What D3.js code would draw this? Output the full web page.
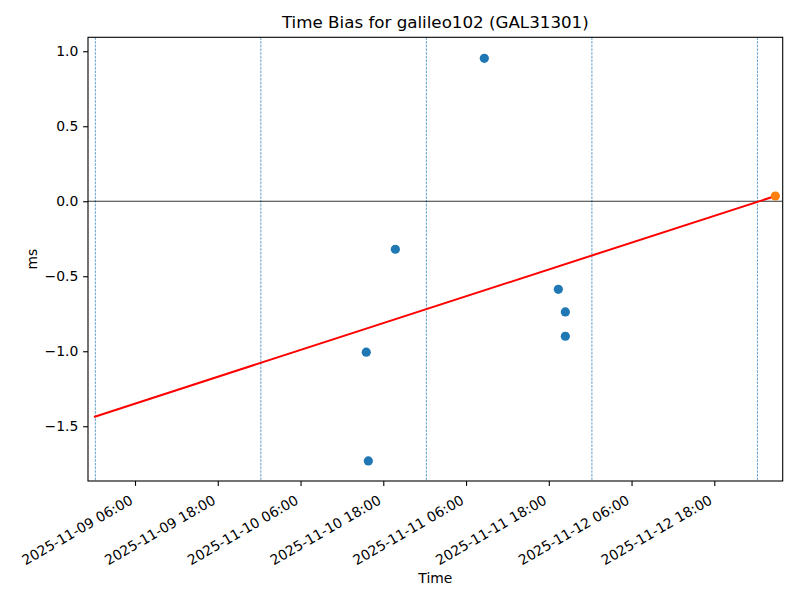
<!DOCTYPE html>
<html>
<head>
<meta charset="utf-8">
<script src="https://cdn.jsdelivr.net/npm/d3@7"></script>
<style>
  html, body { margin: 0; padding: 0; background: #fff; }
  svg { display: block; font-family: "DejaVu Sans", sans-serif; }
</style>
</head>
<body>
<svg id="chart" width="800" height="600"></svg>
<script>
// ---- data ----
const titleText = "Time Bias for galileo102 (GAL31301)";
const xLabel = "Time";
const yLabel = "ms";

const obsTimes  = ["2025-11-10T15:32", "2025-11-10T15:50", "2025-11-10T19:45", "2025-11-11T08:39",
                   "2025-11-11T19:23", "2025-11-11T20:24", "2025-11-11T20:24"];
const obsValues = [-1.006, -1.731, -0.320, 0.953, -0.587, -0.738, -0.900];

const predTimes  = ["2025-11-13T02:51"];
const predValues = [0.035];

const trendTimes  = ["2025-11-09T00:03", "2025-11-13T02:51"];
const trendValues = [-1.438, 0.035];

const dayLines = ["2025-11-09T00:15", "2025-11-10T00:15", "2025-11-11T00:15", "2025-11-12T00:15", "2025-11-13T00:15"];

const xDomain = ["2025-11-08T23:11", "2025-11-13T03:55"];
const yDomain = [-1.865, 1.093];

const xTicks = ["2025-11-09T06:00", "2025-11-09T18:00", "2025-11-10T06:00", "2025-11-10T18:00",
                "2025-11-11T06:00", "2025-11-11T18:00", "2025-11-12T06:00", "2025-11-12T18:00"];
const yTicks = [-1.5, -1.0, -0.5, 0.0, 0.5, 1.0];

// ---- layout ----
const FONT = "'DejaVu Sans', sans-serif";
const parse = d3.utcParse("%Y-%m-%dT%H:%M");
const fmtX = d3.utcFormat("%Y-%m-%d %H:%M");
const fmtY = v => d3.format(".1f")(v).replace("-", "\u2212");

const L = 88, R = 782.7, T = 37.3, B = 481;
const svg = d3.select("#chart");

const x = d3.scaleUtc().domain(xDomain.map(parse)).range([L, R]);
const y = d3.scaleLinear().domain(yDomain).range([B, T]);

svg.append("defs").append("clipPath").attr("id", "clip")
  .append("rect").attr("x", L).attr("y", T).attr("width", R - L).attr("height", B - T);

const plot = svg.append("g").attr("clip-path", "url(#clip)");

// vertical dashed day lines
plot.selectAll("line.day").data(dayLines.map(parse)).join("line")
  .attr("class", "day")
  .attr("x1", d => x(d)).attr("x2", d => x(d))
  .attr("y1", T).attr("y2", B)
  .attr("stroke", "#1f77b4").attr("stroke-width", 0.7)
  .attr("stroke-dasharray", "2.6,1.1");

// zero line
plot.append("line")
  .attr("x1", L).attr("x2", R).attr("y1", y(0)).attr("y2", y(0))
  .attr("stroke", "#000").attr("stroke-width", 0.8);

// observed points
const obs = obsTimes.map((t, i) => ({ t: parse(t), v: obsValues[i] }));
plot.selectAll("circle.obs").data(obs).join("circle")
  .attr("class", "obs")
  .attr("cx", d => x(d.t)).attr("cy", d => y(d.v)).attr("r", 4.6)
  .attr("fill", "#1f77b4");

// trend line
const trend = trendTimes.map((t, i) => ({ t: parse(t), v: trendValues[i] }));
plot.append("path").datum(trend)
  .attr("d", d3.line().x(d => x(d.t)).y(d => y(d.v)))
  .attr("fill", "none").attr("stroke", "#ff0000").attr("stroke-width", 2);

// predicted point
const pred = predTimes.map((t, i) => ({ t: parse(t), v: predValues[i] }));
plot.selectAll("circle.pred").data(pred).join("circle")
  .attr("class", "pred")
  .attr("cx", d => x(d.t)).attr("cy", d => y(d.v)).attr("r", 4.6)
  .attr("fill", "#ff7f0e");

// axes
const xAxis = d3.axisBottom(x).tickValues(xTicks.map(parse)).tickFormat(fmtX).tickSize(4.9).tickSizeOuter(0);
const gx = svg.append("g").attr("transform", `translate(0,${B})`).call(xAxis)
  .attr("font-family", FONT).attr("font-size", 13.9);
gx.select(".domain").remove();
gx.selectAll(".tick line").attr("stroke", "#000").attr("stroke-width", 1.1);
gx.selectAll(".tick text")
  .attr("fill", "#000")
  .attr("text-anchor", "end")
  .attr("x", 0).attr("y", 0).attr("dy", null)
  .attr("transform", "translate(-1.6,22) rotate(-30)");

const yAxis = d3.axisLeft(y).tickValues(yTicks).tickFormat(fmtY).tickSize(4.9).tickSizeOuter(0);
const gy = svg.append("g").attr("transform", `translate(${L},0)`).call(yAxis)
  .attr("font-family", FONT).attr("font-size", 13.9);
gy.select(".domain").remove();
gy.selectAll(".tick line").attr("stroke", "#000").attr("stroke-width", 1.1);
gy.selectAll(".tick text")
  .attr("fill", "#000")
  .attr("x", -9.7).attr("dy", "0.34em");

// spines
svg.append("rect").attr("x", L).attr("y", T).attr("width", R - L).attr("height", B - T)
  .attr("fill", "none").attr("stroke", "#000").attr("stroke-width", 1.1);

// labels
svg.append("text").attr("x", (L + R) / 2).attr("y", 28)
  .attr("text-anchor", "middle").style("font-size", "16.7px").text(titleText);
svg.append("text").attr("x", (L + R) / 2).attr("y", 582.5)
  .attr("text-anchor", "middle").style("font-size", "13.9px").text(xLabel);
svg.append("text").attr("transform", `translate(36.5,${(T + B) / 2}) rotate(-90)`)
  .attr("text-anchor", "middle").style("font-size", "13.9px").text(yLabel);
</script>
</body>
</html>
